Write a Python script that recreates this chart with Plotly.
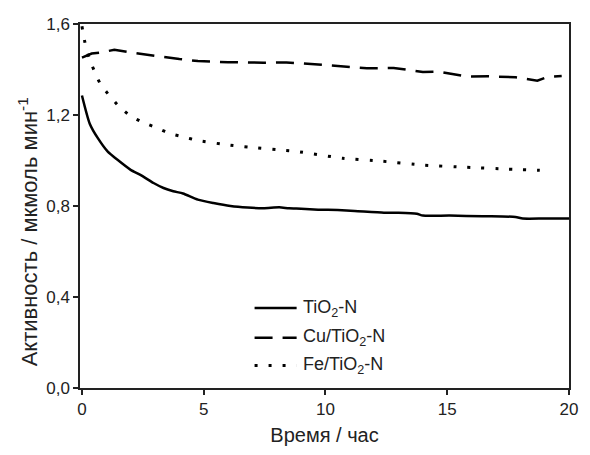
import plotly.graph_objects as go

# TiO2-N (solid)
t_tio2 = [0.0, 0.32, 0.66, 1.06, 1.46, 2.0, 2.4, 2.94, 3.35, 3.75, 4.15, 4.76, 5.4, 6.1, 6.8, 7.45, 8.1, 8.5, 9.0, 9.7, 10.5, 11.2, 12.4, 13.0, 13.75, 14.0, 15.1, 16.45, 17.8, 18.1, 19.0, 20.0]
y_tio2 = [1.286, 1.162, 1.097, 1.039, 1.003, 0.959, 0.937, 0.901, 0.879, 0.865, 0.855, 0.828, 0.813, 0.80, 0.793, 0.79, 0.794, 0.79, 0.788, 0.784, 0.782, 0.778, 0.77, 0.77, 0.766, 0.758, 0.758, 0.755, 0.752, 0.745, 0.745, 0.745]

# Cu/TiO2-N (dashed)
t_cu = [0.0, 0.4, 0.8, 1.33, 2.2, 3.1, 4.0, 4.76, 6.0, 7.45, 8.4, 9.7, 10.8, 11.7, 12.8, 14.0, 14.7, 15.8, 16.7, 17.8, 18.7, 19.1, 19.7]
y_cu = [1.452, 1.47, 1.475, 1.487, 1.472, 1.458, 1.446, 1.437, 1.432, 1.43, 1.431, 1.422, 1.412, 1.405, 1.407, 1.389, 1.39, 1.369, 1.37, 1.366, 1.351, 1.367, 1.371]

# Fe/TiO2-N (dotted)
t_fe = [0.0, 0.12, 0.3, 0.6, 0.79, 1.13, 1.53, 2.0, 2.54, 3.15, 3.62, 4.15, 4.76, 6.1, 7.2, 8.26, 8.8, 10.7, 12.3, 14.0, 15.8, 17.5, 18.8]
y_fe = [1.59, 1.52, 1.45, 1.37, 1.331, 1.285, 1.237, 1.195, 1.166, 1.14, 1.118, 1.104, 1.088, 1.067, 1.055, 1.045, 1.04, 1.01, 0.997, 0.98, 0.97, 0.962, 0.957]

names = ["TiO<sub>2</sub>-N", "Cu/TiO<sub>2</sub>-N", "Fe/TiO<sub>2</sub>-N"]
dashes = ["solid", "18px,10px", "3px,11px"]
widths = [2.5, 2.5, 3]

y_ticks = [0.0, 0.4, 0.8, 1.2, 1.6]
x_ticks = [0, 5, 10, 15, 20]

ink = "#222222"
fig = go.Figure()
fig.add_trace(go.Scatter(x=t_tio2, y=y_tio2, mode="lines", name=names[0],
                         line=dict(color="black", width=widths[0], dash=dashes[0], shape="spline", smoothing=0.6)))
fig.add_trace(go.Scatter(x=t_cu, y=y_cu, mode="lines", name=names[1],
                         line=dict(color="black", width=widths[1], dash=dashes[1])))
fig.add_trace(go.Scatter(x=t_fe, y=y_fe, mode="lines", name=names[2],
                         line=dict(color="black", width=widths[2], dash=dashes[2], shape="spline", smoothing=0.5)))

# manual legend (longer sample lines, like the reference)
leg_rows = [0.2195, 0.138, 0.062]
for i, name in enumerate(names):
    fig.add_shape(type="line", xref="paper", yref="paper",
                  x0=0.357, x1=0.443, y0=leg_rows[i], y1=leg_rows[i],
                  line=dict(color="black", width=widths[i], dash=dashes[i]))
    fig.add_annotation(xref="paper", yref="paper", x=0.452, y=leg_rows[i],
                       xanchor="left", yanchor="middle", text=name, showarrow=False,
                       font=dict(size=18, color=ink))

# y-axis title (placed like the reference, slightly below centre)
fig.add_annotation(xref="paper", yref="paper", x=-0.106, y=0.428, textangle=-90,
                   xanchor="center", yanchor="middle", showarrow=False,
                   text="Активность / мкмоль мин<sup>-1</sup>", font=dict(size=22, color=ink))

fig.update_layout(
    width=590, height=455,
    margin=dict(l=80, r=12, t=24, b=62),
    paper_bgcolor="white", plot_bgcolor="white",
    separators=", ",
    font=dict(family="Arial, Liberation Sans, sans-serif", size=17, color=ink),
    showlegend=False,
    xaxis=dict(range=[-0.08, 20], tickvals=x_ticks, ticks="outside", ticklen=5,
               tickwidth=1.5, tickcolor=ink, showline=True, linecolor=ink, linewidth=1.5,
               mirror=True, showgrid=False, zeroline=False,
               title=dict(text="Время / час", font=dict(size=20), standoff=10),
               tickfont=dict(size=17)),
    yaxis=dict(range=[0, 1.6], tickvals=y_ticks, tickformat=".1f", ticks="outside", ticklen=5,
               tickwidth=1.5, tickcolor=ink, showline=True, linecolor=ink, linewidth=1.5,
               mirror=True, showgrid=False, zeroline=False,
               tickfont=dict(size=17)),
)

fig.write_html("out.html")
